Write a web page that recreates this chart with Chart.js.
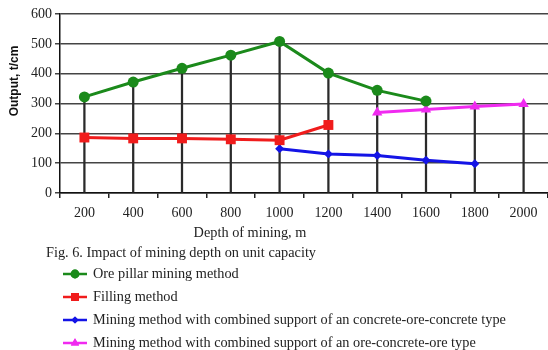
<!DOCTYPE html>
<html>
<head>
<meta charset="utf-8">
<script src="https://cdn.jsdelivr.net/npm/chart.js@4.4.1/dist/chart.umd.min.js"></script>
<style>
html,body{margin:0;padding:0;background:#fff;}
#c{display:block;}
</style>
</head>
<body>
<canvas id="c" width="548" height="350"></canvas>
<script>
const depths = ['200','400','600','800','1000','1200','1400','1600','1800','2000'];
const orePillar = [322, 372, 418, 462, 508, 402, 344, 308, null, null];
const filling = [186, 183, 183, 180, 177, 228, null, null, null, null];
const concreteOreConcrete = [null, null, null, null, 148, 131, 126, 110, 98, null];
const oreConcreteOre = [null, null, null, null, null, null, 270, 280, 290, 298];
const yTicks = [0, 100, 200, 300, 400, 500, 600];
const seriesNames = [
  'Ore pillar mining method',
  'Filling method',
  'Mining method with combined support of an concrete-ore-concrete type',
  'Mining method with combined support of an ore-concrete-ore type'
];
const yTitle = 'Output, t/cm';
const xTitle = 'Depth of mining, m';
const caption = 'Fig. 6. Impact of mining depth on unit capacity';

const allSeries = [orePillar, filling, concreteOreConcrete, oreConcreteOre];
const dropLines = depths.map((_, i) => {
  const vals = allSeries.map(s => s[i]).filter(v => v !== null);
  return vals.length ? Math.max(...vals) : null;
});

const styles = [
  {color: '#1b8a1b', pointStyle: 'circle', radius: 5.5},
  {color: '#f01c1c', pointStyle: 'rect', radius: 7},
  {color: '#1414e6', pointStyle: 'rectRot', radius: 4.5},
  {color: '#f02af0', pointStyle: 'triangle', radius: 6}
];

const lineSets = allSeries.map((data, k) => ({
  type: 'line',
  label: seriesNames[k],
  data: data,
  borderColor: styles[k].color,
  backgroundColor: styles[k].color,
  borderWidth: 3,
  pointStyle: styles[k].pointStyle,
  pointRadius: styles[k].radius,
  pointBorderWidth: 0,
  spanGaps: false,
  order: 1
}));

const overlay = {
  id: 'overlay',
  afterDraw(chart) {
    const ctx = chart.ctx;
    ctx.save();
    ctx.save();
    ctx.translate(15, 81);
    ctx.rotate(-Math.PI / 2);
    ctx.font = 'bold 12px "Liberation Sans Narrow", "Liberation Sans", Arial, sans-serif';
    ctx.fillStyle = '#111';
    ctx.textAlign = 'center';
    ctx.textBaseline = 'middle';
    ctx.fillText(yTitle, 0, 0);
    ctx.restore();
    ctx.font = '14.3px "Liberation Serif", "Times New Roman", serif';
    ctx.fillStyle = '#222';
    ctx.textBaseline = 'middle';
    ctx.textAlign = 'center';
    ctx.fillText(xTitle, 250, 233);
    ctx.textAlign = 'left';
    ctx.fillText(caption, 46, 253);
    const rows = [274, 297, 320, 343];
    lineSets.forEach((ds, k) => {
      const y = rows[k];
      ctx.strokeStyle = ds.borderColor;
      ctx.lineWidth = 2.5;
      ctx.beginPath();
      ctx.moveTo(63, y);
      ctx.lineTo(87, y);
      ctx.stroke();
      ctx.fillStyle = ds.borderColor;
      Chart.helpers.drawPoint(ctx, {pointStyle: ds.pointStyle, radius: ds.pointRadius * 0.8, rotation: 0, borderWidth: 0}, 75, y);
      ctx.fill();
      ctx.fillStyle = '#222';
      ctx.fillText(ds.label, 93, y);
    });
    ctx.restore();
  }
};

new Chart(document.getElementById('c'), {
  data: {
    labels: depths,
    datasets: [
      ...lineSets,
      {
        type: 'bar',
        label: 'drop',
        data: dropLines,
        backgroundColor: '#2a2a2a',
        barThickness: 1.6,
        order: 5
      }
    ]
  },
  options: {
    responsive: false,
    animation: false,
    devicePixelRatio: 1,
    layout: {autoPadding: false, padding: {top: 14, right: -4, bottom: 127, left: 0}},
    plugins: {legend: {display: false}, tooltip: {enabled: false}},
    scales: {
      x: {
        type: 'category',
        offset: true,
        afterFit(s) { s.height = 30; s.paddingLeft = 0; s.paddingRight = 0; },
        grid: {display: true, drawOnChartArea: false, drawTicks: true, tickLength: 5, offset: true, color: '#222', lineWidth: 1.5},
        border: {display: true, color: '#111', width: 1.5},
        ticks: {color: '#222', padding: 7, maxRotation: 0, font: {family: '"Liberation Serif", "Times New Roman", serif', size: 14}}
      },
      y: {
        min: 0, max: 600,
        afterFit(s) { s.width = 60; },
        afterBuildTicks(s) { s.ticks = yTicks.map(v => ({value: v})); },
        grid: {color: '#444', lineWidth: 1.5, tickLength: 5, drawTicks: true},
        border: {display: true, color: '#111', width: 1.5},
        ticks: {color: '#222', padding: 3, font: {family: '"Liberation Serif", "Times New Roman", serif', size: 14}}
      }
    }
  },
  plugins: [overlay]
});
</script>
</body>
</html>
